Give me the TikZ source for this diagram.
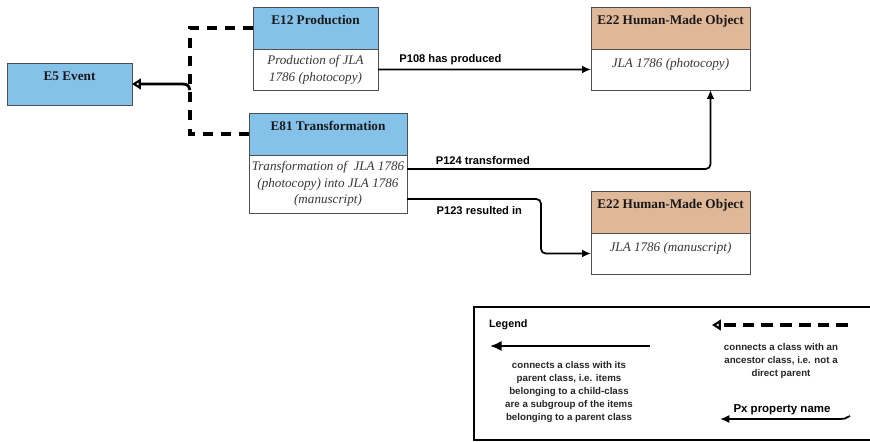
\documentclass[tikz,border=0pt]{standalone}
\usepackage{fontspec}
\setmainfont{Liberation Serif}
\setsansfont{Liberation Sans}
\usetikzlibrary{positioning,calc,arrows.meta}
\definecolor{classblue}{RGB}{133,194,234}
\definecolor{classbrown}{RGB}{223,184,153}
\definecolor{boxline}{RGB}{80,80,80}
\definecolor{bodytext}{RGB}{55,55,55}
\def\px{0.03cm}
\tikzset{
  hdr/.style={draw=boxline, line width=0.8pt, outer sep=0pt, anchor=north west,
    inner xsep=1pt, inner ysep=3pt, text height=11.9pt, text depth=17.95pt,
    font=\fontsize{11.3}{13}\selectfont\bfseries, text=black!90},
  body/.style={draw=boxline, line width=0.8pt, outer sep=0pt, fill=white,
    inner xsep=1pt, align=center, font=\fontsize{11.2}{14.3}\selectfont\itshape, text=bodytext},
  topline/.style={text height=12.4pt, text depth=16.6pt, inner ysep=3pt},
  ancestor/.style={line width=2.9pt, dash pattern=on 8.5pt off 7pt},
  openhead/.style={-{Triangle[open, length=7.5pt, width=9pt, line width=1.8pt]}},
  parent/.style={line width=2.4pt, openhead},
  prop/.style={line width=1.5pt, rounded corners=4pt, -{Latex[length=7.5pt, width=6.5pt]}},
  lbl/.style={font=\sffamily\bfseries\fontsize{9.5}{11}\selectfont},
  lgtext/.style={align=center, text=black!85, font=\sffamily\bfseries\fontsize{8.3}{11.3}\selectfont}
}
\begin{document}
\begin{tikzpicture}[x=\px, y=-\px]
  \useasboundingbox (0,0) rectangle (870,441);

  \node[hdr, fill=classblue, minimum width=125*\px] (e5) at (7,63) {E5 Event};

  \node[hdr, fill=classblue, minimum width=125*\px] (e12h) at (253,7) {E12 Production};
  \node[body, below=0pt of e12h, minimum width=125*\px, minimum height=41*\px] (e12b)
    {Production of JLA\\1786 (photocopy)};

  \node[hdr, fill=classblue, minimum width=158*\px] (e81h) at (249,113) {E81 Transformation};
  \node[body, below=0pt of e81h, minimum width=158*\px, minimum height=58*\px] (e81b)
    {Transformation of \ JLA 1786\\(photocopy) into JLA 1786\\(manuscript)};

  \node[hdr, fill=classbrown, minimum width=159*\px] (e22ah) at (591,7) {E22 Human-Made Object};
  \node[body, topline, below=0pt of e22ah, minimum width=159*\px] (e22ab) {JLA 1786 (photocopy)};

  \node[hdr, fill=classbrown, minimum width=159*\px] (e22bh) at (591,191) {E22 Human-Made Object};
  \node[body, topline, below=0pt of e22bh, minimum width=159*\px] (e22bb) {JLA 1786 (manuscript)};

  \coordinate (jn) at (190,90);
  \draw[ancestor] (e12h.west) -| (jn);
  \draw[ancestor] (e81h.west) -| (jn);
  \draw[parent] (jn) .. controls (188,84) .. (176,84) -- (e5.east);

  \coordinate (p124s) at ($(e81b.east)+(0,-15)$);
  \coordinate (p123s) at ($(e81b.east)+(0,15)$);
  \coordinate (p124e) at ($(e22ab.south)+(40,0)$);

  \draw[prop] (e12b.east) -- node[lbl, pos=0.34, above] (p108) {P108 has produced} (e22ab.west);
  \draw[prop] (p124s) -| node[lbl, pos=0.125, above] (p124) {P124 transformed} (p124e);
  \draw[prop] (p123s) -- node[lbl, pos=0.54, below=2pt] (p123) {P123 resulted in} ++(134,0) |- (e22bb.west);

  \draw[line width=1.8pt] (474,307) rectangle (880,440);
  \node[lbl, anchor=west, font=\sffamily\bfseries\fontsize{9.2}{11}\selectfont] (lgtitle) at (485,325) {Legend};

  \coordinate (lgpa) at (650,346);
  \coordinate (lgpb) at (490,346);
  \draw[line width=2.4pt, -{Latex[length=10pt, width=9pt]}] (lgpa) -- (lgpb);
  \node[lgtext] (lgparent) at (569,392) {connects a class with its\\parent class, i.e. items\\belonging to a child-class\\are a subgroup of the items\\belonging to a parent class};

  \coordinate (lgaa) at (848,325);
  \coordinate (lgab) at (712,325);
  \draw[line width=2.8pt, dash pattern=on 10pt off 6pt, openhead] (lgaa) -- (lgab);
  \node[lgtext] (lgancestor) at (781,361) {connects a class with an\\ancestor class, i.e. not a\\direct parent};

  \coordinate (lgxa) at (850,416);
  \coordinate (lgxb) at (720,419);
  \draw[line width=1.5pt, -{Latex[length=8pt, width=7pt]}] (lgxa) .. controls (846,419) .. (830,419) -- (lgxb);
  \node[lbl, font=\sffamily\bfseries\fontsize{9.8}{12}\selectfont] (lgprop) at (782,410) {Px property name};
\end{tikzpicture}
\end{document}
